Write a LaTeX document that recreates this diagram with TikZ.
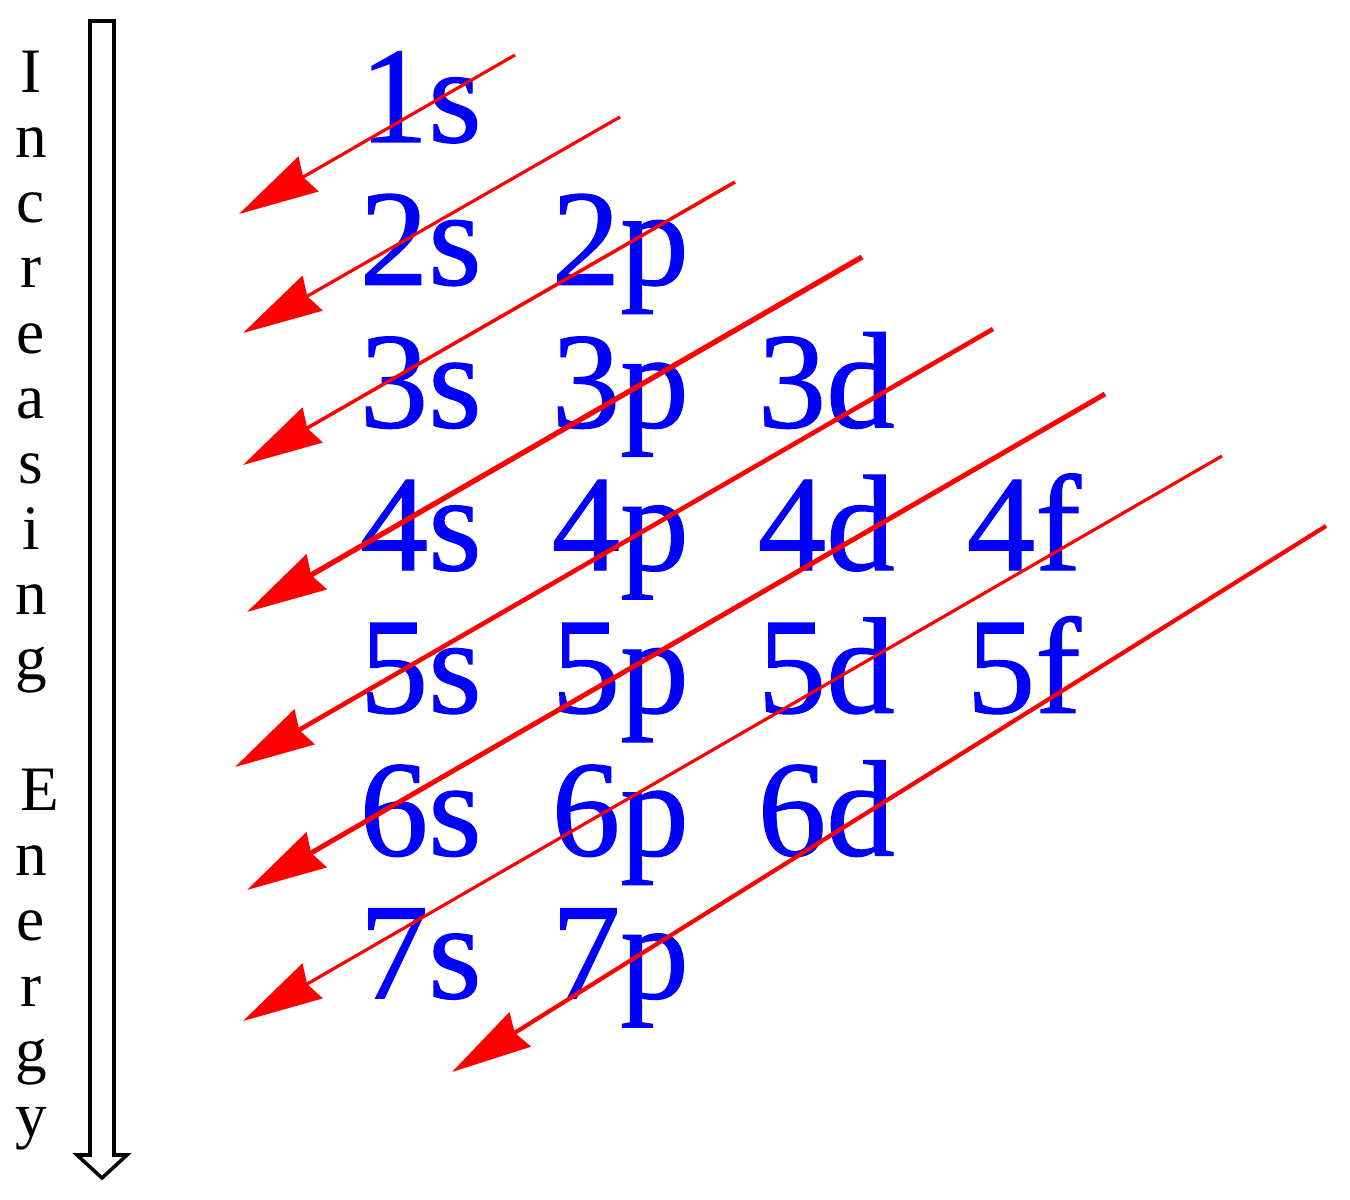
\documentclass[tikz,border=0pt]{standalone}
\usepackage{fontspec}
\setmainfont{Liberation Serif}
\newfontfamily\orbfont[FakeBold=0.8]{Liberation Serif}
\usepackage{tikz}
\usetikzlibrary{arrows.meta}

\begin{document}
\begin{tikzpicture}[x=0.01cm, y=-0.01cm,
    orbital/.style={text=blue, anchor=base west, inner sep=0pt, font=\orbfont\fontsize{39}{39}\selectfont},
    letter/.style={anchor=base, inner sep=0pt, font=\fontsize{18}{18}\selectfont},
    fillarrow/.style={red, -{Stealth[length=8mm, width=4mm, inset=0.6mm]}}]
    \useasboundingbox (0,0) rectangle (1350,1200);

    % energy axis
    \draw[line width=1pt] (90,21) -- (114,21) -- (114,1155) -- (127,1155) -- (102,1178) -- (77,1155) -- (90,1155) -- cycle;
    \foreach \ch/\dx [count=\i] in {I/0,n/0,c/0,r/0,e/0,a/0,s/0,i/0,n/0,g/0,{}/0,E/9,n/0,e/0,r/0,g/0,y/0}
        \node[letter] (l\i) at ({31+\dx},{92+(\i-1)*65.3}) {\ch};

    % orbitals
    \foreach \n/\ls in {1/{s},2/{s,p},3/{s,p,d},4/{s,p,d,f},5/{s,p,d,f},6/{s,p,d},7/{s,p}}
        \foreach \l [count=\c from 0] in \ls {
            \pgfmathsetmacro\cx{{359,551,757,966}[\c]}
            \node[orbital] (o\n\l) at (\cx,{142+(\n-1)*142.7}) {\n\l};
        }

    % filling order
    \foreach \i/\tx/\ty/\hx/\hy/\w in {1/515/55/239/214/0.9,2/620/117/243/333/0.9,3/735/182/243/465/1.0,
        4/862/257/247/612/1.5,5/993/329/235/767/1.3,6/1105/394/247/890/1.4,7/1222/456/243/1021/0.9,8/1326/526/452/1072/1.2} {
        \coordinate (t\i) at (\tx,\ty);
        \coordinate (h\i) at (\hx,\hy);
        \draw[fillarrow, line width=\w pt] (t\i) -- (h\i);
    }
\end{tikzpicture}
\end{document}
